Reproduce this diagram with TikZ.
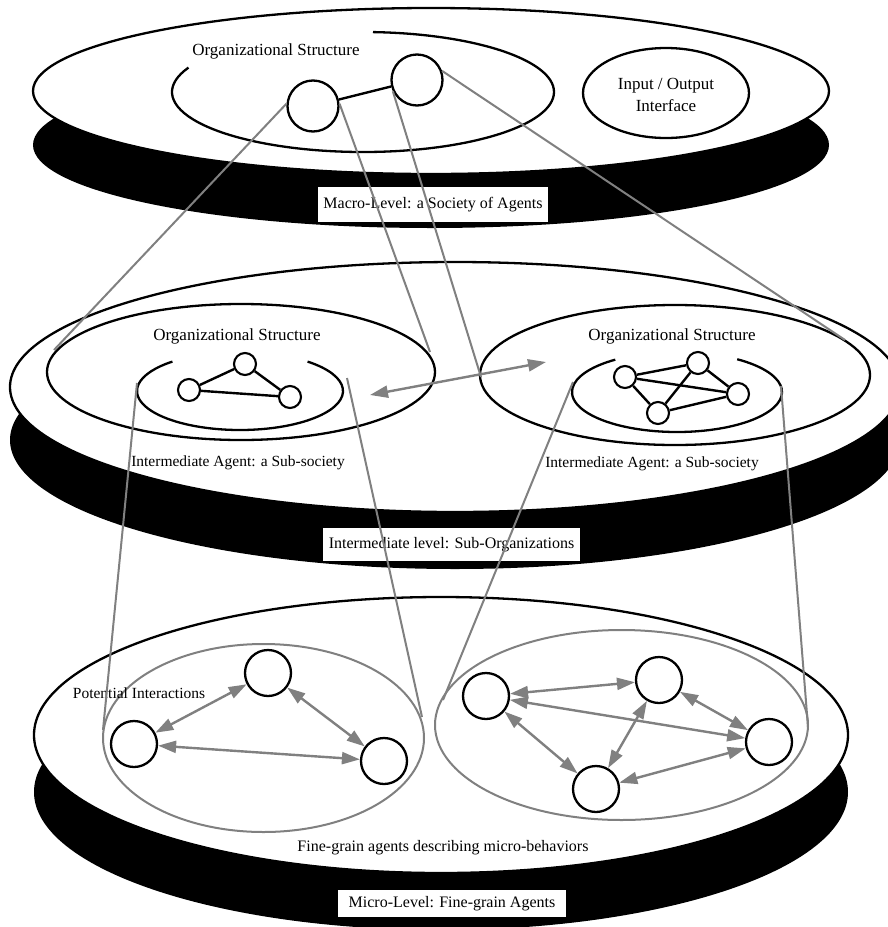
\documentclass[tikz,border=0pt]{standalone}
\usepackage{fontspec}
\setmainfont{Liberation Serif}
\usetikzlibrary{arrows.meta}
\definecolor{lgray}{RGB}{128,128,128}
\begin{document}
\begin{tikzpicture}[x=1pt,y=-1pt,
  disc/.style={draw=black,fill=white,line width=2.3pt},
  shade/.style={fill=black},
  ring/.style={draw=black,line width=2.3pt},
  gring/.style={draw=lgray,line width=2pt},
  agentL/.style={circle,draw=black,fill=white,line width=2.3pt,minimum size=51pt,inner sep=0pt},
  agentM/.style={circle,draw=black,fill=white,line width=2.1pt,minimum size=22pt,inner sep=0pt},
  agentS/.style={circle,draw=black,fill=white,line width=2.3pt,minimum size=46pt,inner sep=0pt},
  link/.style={draw=black,line width=2.4pt},
  proj/.style={draw=lgray,line width=2pt},
  inter/.style={draw=lgray,line width=2.4pt,{Triangle[length=18pt,width=12pt]}-{Triangle[length=18pt,width=12pt]}},
  txt/.style={inner sep=0pt,font=\fontsize{16}{19}\selectfont},
  txtb/.style={inner sep=0pt,font=\fontsize{17}{20}\selectfont,align=center},
  txts/.style={inner sep=0pt,font=\fontsize{15.5}{18}\selectfont},
  band/.style={fill=white,inner sep=0pt,font=\fontsize{16}{19}\selectfont}
]
\useasboundingbox (0,0) rectangle (888,927);
\clip (0,0) rectangle (888,927);

% ---------- bottom layer ----------
\fill[shade] (441,792) ellipse [x radius=407, y radius=138];
\draw[disc] (441,735) ellipse [x radius=407, y radius=138];
% ---------- middle layer ----------
\fill[shade] (455,440) ellipse [x radius=445, y radius=129];
\draw[disc] (455,387) ellipse [x radius=445, y radius=125];
% ---------- top layer ----------
\fill[shade] (431,145) ellipse [x radius=398, y radius=83];
\draw[disc] (431,91) ellipse [x radius=398, y radius=83];

% ---------- level labels ----------
\node[band,minimum width=230pt,minimum height=35pt] (macro) at (433,204.5) {Macro-Level: a Society of Agents};
\node[band,minimum width=257pt,minimum height=33pt] (interm) at (451.5,544.5) {Intermediate level: Sub-Organizations};
\node[band,minimum width=228pt,minimum height=27pt] (micro) at (452,903.5) {Micro-Level: Fine-grain Agents};

% ---------- top layer content ----------
\draw[ring] (363,92) ++(-87:191 and 60) arc[start angle=-87, end angle=204, x radius=191, y radius=60];
\node[txtb] (orgTop) at (276,51) {Organizational Structure};
\draw[ring] (666,93) ellipse [x radius=83, y radius=45];
\node[txtb] (io) at (666,95) {Input / Output\\[2pt]Interface};
\node[agentL] (tA) at (313,106) {};
\node[agentL] (tB) at (417,80) {};
\draw[link] (tA) -- (tB);

% ---------- middle layer content ----------
\draw[ring] (241,372) ellipse [x radius=194, y radius=68];
\draw[ring] (240,391) ++(-49:103 and 39) arc[start angle=-49, end angle=229, x radius=103, y radius=39];
\node[txtb] (orgL) at (237,336) {Organizational Structure};
\node[txts] (subL) at (238,463) {Intermediate Agent: a Sub-society};

\draw[ring] (675,375) ellipse [x radius=195, y radius=70];
\draw[ring] (677,392) ++(-55:105 and 40) arc[start angle=-55, end angle=234, x radius=105, y radius=40];
\node[txtb] (orgR) at (672,336) {Organizational Structure};
\node[txts] (subR) at (652,464) {Intermediate Agent: a Sub-society};

\node[agentM] (ml1) at (245,364) {};
\node[agentM] (ml2) at (189,390) {};
\node[agentM] (ml3) at (290,397) {};
\draw[link] (ml1) -- (ml2);
\draw[link] (ml1) -- (ml3);
\draw[link] (ml2) -- (ml3);

\node[agentM] (mr1) at (625,377) {};
\node[agentM] (mr2) at (698,363) {};
\node[agentM] (mr3) at (738,394) {};
\node[agentM] (mr4) at (658,413) {};
\draw[link] (mr1) -- (mr2);
\draw[link] (mr1) -- (mr3);
\draw[link] (mr1) -- (mr4);
\draw[link] (mr2) -- (mr3);
\draw[link] (mr2) -- (mr4);
\draw[link] (mr4) -- (mr3);

\coordinate (mA) at (370,395);
\coordinate (mB) at (546,362);
\draw[inter] (mA) -- (mB);

% ---------- bottom layer content ----------
\draw[gring] (263.5,738) ellipse [x radius=160.5, y radius=94];
\draw[gring] (621.5,725) ellipse [x radius=186.5, y radius=95];
\node[txts] (pot) at (139,693) {Potential Interactions};
\node[txt] (fine) at (443,848) {Fine-grain agents describing micro-behaviors};

\node[agentS] (bl1) at (268,673) {};
\node[agentS] (bl2) at (134,744) {};
\node[agentS] (bl3) at (384,761) {};
\draw[inter] (bl1) -- (bl2);
\draw[inter] (bl1) -- (bl3);
\draw[inter] (bl2) -- (bl3);

\node[agentS] (br1) at (486,696) {};
\node[agentS] (br2) at (659,680) {};
\node[agentS] (br3) at (769,742) {};
\node[agentS] (br4) at (596,789) {};
\draw[inter] (br1) -- (br2);
\draw[inter] (br1) -- (br3);
\draw[inter] (br1) -- (br4);
\draw[inter] (br2) -- (br3);
\draw[inter] (br2) -- (br4);
\draw[inter] (br4) -- (br3);

% ---------- projection lines ----------
\coordinate (pL1) at (54,350);
\coordinate (pL2) at (430,352);
\coordinate (pR1) at (481,377);
\coordinate (pR2) at (845,340);
\coordinate (iL1) at (137,383);
\coordinate (iL2) at (347,378);
\coordinate (iR1) at (573,382);
\coordinate (iR2) at (781,386);
\coordinate (bL1) at (103,730);
\coordinate (bL2) at (422,717);
\coordinate (bR1) at (443,700);
\coordinate (bR2) at (808,727);

\draw[proj] (tA.175) -- (pL1);
\draw[proj] (tA.5) -- (pL2);
\draw[proj] (tB.205) -- (pR1);
\draw[proj] (tB.20) -- (pR2);
\draw[proj] (iL1) -- (bL1);
\draw[proj] (iL2) -- (bL2);
\draw[proj] (iR1) -- (bR1);
\draw[proj] (iR2) -- (bR2);
\end{tikzpicture}
\end{document}
